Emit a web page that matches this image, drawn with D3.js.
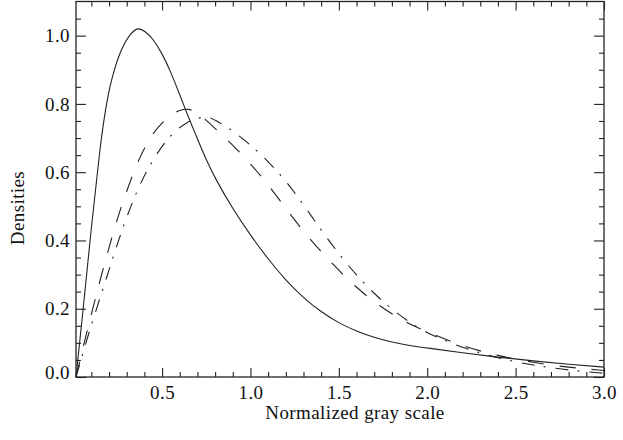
<!DOCTYPE html>
<html>
<head>
<meta charset="utf-8">
<script src="https://cdnjs.cloudflare.com/ajax/libs/d3/7.8.5/d3.min.js"></script>
<style>
body { margin: 0; background: #fff; }
text { font-family: "Liberation Serif", serif; fill: #111; letter-spacing: 0.4px; }
</style>
</head>
<body>
<div class="container"></div>
<script>
// values
const solidX = [0.013, 0.05, 0.1, 0.149, 0.18, 0.205, 0.235, 0.262, 0.29, 0.315, 0.34, 0.365, 0.4, 0.45, 0.5, 0.55, 0.601, 0.648, 0.7, 0.75, 0.8, 0.9, 1.0, 1.1, 1.2, 1.3, 1.4, 1.5, 1.6, 1.7, 1.8, 1.9, 2.0, 2.2, 2.4, 2.6, 2.8, 3.0]
const solidY = [0.0, 0.18, 0.44, 0.675, 0.785, 0.853, 0.91, 0.95, 0.98, 1.0, 1.015, 1.022, 1.015, 0.99, 0.948, 0.893, 0.825, 0.763, 0.697, 0.636, 0.582, 0.492, 0.415, 0.345, 0.283, 0.232, 0.19, 0.158, 0.134, 0.116, 0.102, 0.092, 0.085, 0.071, 0.058, 0.047, 0.037, 0.029]

const dashX = [0.013, 0.05, 0.1, 0.15, 0.2, 0.25, 0.3, 0.35, 0.4, 0.45, 0.5, 0.55, 0.6, 0.648, 0.7, 0.75, 0.8, 0.9, 1.0, 1.11, 1.233, 1.346, 1.468, 1.591, 1.733, 1.883, 2.0, 2.2, 2.4, 2.6, 2.8, 3.0]
const dashY = [0.0, 0.08, 0.185, 0.285, 0.38, 0.47, 0.545, 0.615, 0.672, 0.715, 0.745, 0.768, 0.782, 0.787, 0.774, 0.752, 0.728, 0.68, 0.625, 0.558, 0.47, 0.397, 0.329, 0.265, 0.206, 0.158, 0.132, 0.09, 0.062, 0.042, 0.028, 0.019]

const dotX = [0.013, 0.036, 0.083, 0.149, 0.205, 0.262, 0.337, 0.413, 0.526, 0.639, 0.752, 0.8, 0.9, 1.0, 1.1, 1.2, 1.3, 1.4, 1.5, 1.6, 1.7, 1.8, 1.9, 2.0, 2.2, 2.4, 2.6, 2.8, 3.0]
const dotY = [0.0, 0.041, 0.125, 0.232, 0.322, 0.415, 0.521, 0.607, 0.70, 0.75, 0.766, 0.753, 0.722, 0.68, 0.632, 0.575, 0.505, 0.43, 0.36, 0.298, 0.244, 0.198, 0.16, 0.128, 0.085, 0.055, 0.034, 0.020, 0.011]

const xMajor = [0.5, 1.0, 1.5, 2.0, 2.5, 3.0]
const xMinor = d3.range(1, 30).filter(i => i % 5 !== 0).map(i => i / 10)
const yMajor = [0.0, 0.2, 0.4, 0.6, 0.8, 1.0]
const yMinor = d3.range(1, 22).filter(i => i % 4 !== 0).map(i => i / 20)

const xLabel = "Normalized gray scale"
const yLabel = "Densities"

// Create SVG
let outerWidth = 623
let outerHeight = 440
let margin = {top: 1.5, bottom: 63, left: 76, right: 19}
let width = outerWidth - margin.left - margin.right
let height = outerHeight - margin.top - margin.bottom
const fontSize = 19

const svg = d3.select(".container")
    .append("svg")
    .attr("width", outerWidth)
    .attr("height", outerHeight)

const g = svg.append("g")
    .attr("transform", `translate(${margin.left}, ${margin.top})`)

const x = d3.scaleLinear()
    .domain([0.013, 3.0])
    .range([0, width])

const y = d3.scaleLinear()
    .domain([0, 1.1])
    .range([height, 0])

// Axes, ticks pointing inward on all four sides
function styleAxis(sel) {
    sel.select(".domain").remove()
    sel.selectAll("line").attr("stroke", "#222").attr("stroke-width", 1.1)
    sel.selectAll("text").attr("font-size", fontSize).attr("fill", "#111")
        .style("font-family", '"Liberation Serif", serif')
}

g.append("g")
    .attr("transform", `translate(0, ${height})`)
    .call(d3.axisBottom(x).tickValues(xMajor).tickSize(-9).tickPadding(9).tickFormat(d3.format(".1f")))
    .call(styleAxis)

g.append("g")
    .attr("transform", `translate(0, ${height})`)
    .call(d3.axisBottom(x).tickValues(xMinor).tickSize(-5).tickFormat(""))
    .call(styleAxis)

g.append("g")
    .call(d3.axisTop(x).tickValues(xMajor).tickSize(-9).tickFormat(""))
    .call(styleAxis)

g.append("g")
    .call(d3.axisTop(x).tickValues(xMinor).tickSize(-5).tickFormat(""))
    .call(styleAxis)

const yAxis = g.append("g")
    .call(d3.axisLeft(y).tickValues(yMajor).tickSize(-10).tickPadding(6).tickFormat(d3.format(".1f")))
    .call(styleAxis)

// lowest label sits a little above the corner
yAxis.selectAll(".tick text").filter(d => d === 0).attr("y", -5)

g.append("g")
    .call(d3.axisLeft(y).tickValues(yMinor).tickSize(-5).tickFormat(""))
    .call(styleAxis)

g.append("g")
    .attr("transform", `translate(${width}, 0)`)
    .call(d3.axisRight(y).tickValues(yMajor).tickSize(-10).tickFormat(""))
    .call(styleAxis)

g.append("g")
    .attr("transform", `translate(${width}, 0)`)
    .call(d3.axisRight(y).tickValues(yMinor).tickSize(-5).tickFormat(""))
    .call(styleAxis)

// Frame
g.append("rect")
    .attr("width", width)
    .attr("height", height)
    .attr("fill", "none")
    .attr("stroke", "#222")
    .attr("stroke-width", 1.3)

// Curves
const line = d3.line()
    .x(d => x(d[0]))
    .y(d => y(d[1]))
    .curve(d3.curveBasis)

const series = [
    {xs: solidX, ys: solidY, dash: null},
    {xs: dashX, ys: dashY, dash: "16,16"},
    {xs: dotX, ys: dotY, dash: "13,9,2,10"}
]

g.selectAll(".curve")
    .data(series)
    .join("path")
    .attr("class", "curve")
    .attr("d", s => line(d3.zip(s.xs, s.ys)))
    .attr("fill", "none")
    .attr("stroke", "#222")
    .attr("stroke-width", 1.1)
    .attr("stroke-dasharray", s => s.dash)

// Axis titles
svg.append("text")
    .attr("x", 355)
    .attr("y", 419)
    .attr("text-anchor", "middle")
    .attr("font-size", fontSize)
    .text(xLabel)

svg.append("text")
    .attr("transform", "translate(24, 208) rotate(-90)")
    .attr("text-anchor", "middle")
    .attr("font-size", fontSize)
    .text(yLabel)
</script>
</body>
</html>
